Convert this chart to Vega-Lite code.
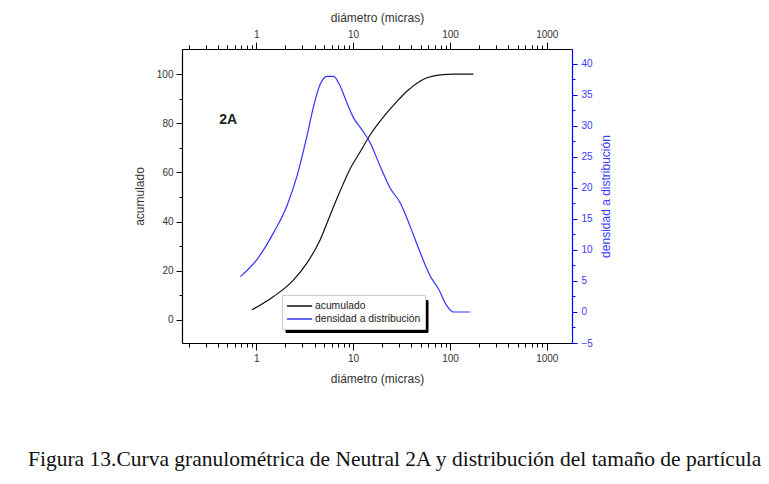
{
  "$schema": "https://vega.github.io/schema/vega-lite/v6.json",
  "width": 390,
  "height": 294,
  "autosize": {"type": "none"},
  "padding": {"left": 182, "top": 49, "right": 197, "bottom": 141},
  "background": "white",
  "config": {
    "view": {"stroke": null},
    "font": "Liberation Sans",
    "axis": {
      "grid": false,
      "domainColor": "black",
      "tickColor": "black",
      "domainWidth": 1.2,
      "tickWidth": 1,
      "labelFont": "Liberation Sans",
      "labelFontSize": 10,
      "labelColor": "#333333",
      "titleFont": "Liberation Sans",
      "titleFontSize": 12,
      "titleFontWeight": "normal",
      "titleColor": "#333333"
    }
  },
  "title": {
    "text": "Figura 13.Curva granulométrica de Neutral 2A y distribución del tamaño de partícula",
    "orient": "bottom",
    "anchor": "start",
    "frame": "group",
    "dx": -154,
    "offset": 65,
    "font": "Liberation Serif",
    "fontSize": 21.5,
    "fontWeight": "normal",
    "color": "#111111"
  },
  "datasets": {
    "acum": [
      {"d": 0.903, "v": 4.1, "serie": "acumulado"},
      {"d": 1.51, "v": 9.5, "serie": "acumulado"},
      {"d": 2.43, "v": 16.3, "serie": "acumulado"},
      {"d": 3.33, "v": 23.1, "serie": "acumulado"},
      {"d": 4.57, "v": 32.6, "serie": "acumulado"},
      {"d": 5.8, "v": 42.7, "serie": "acumulado"},
      {"d": 7.36, "v": 52.5, "serie": "acumulado"},
      {"d": 9.33, "v": 61.5, "serie": "acumulado"},
      {"d": 11.84, "v": 68.4, "serie": "acumulado"},
      {"d": 15.02, "v": 75.3, "serie": "acumulado"},
      {"d": 21.4, "v": 83.4, "serie": "acumulado"},
      {"d": 28.3, "v": 88.8, "serie": "acumulado"},
      {"d": 35.9, "v": 93.0, "serie": "acumulado"},
      {"d": 57.8, "v": 98.5, "serie": "acumulado"},
      {"d": 79.2, "v": 99.7, "serie": "acumulado"},
      {"d": 110, "v": 100, "serie": "acumulado"},
      {"d": 175, "v": 100, "serie": "acumulado"}
    ],
    "dens": [
      {"d": 0.684, "v": 5.7, "serie": "densidad a distribución"},
      {"d": 1.02, "v": 8.5, "serie": "densidad a distribución"},
      {"d": 1.51, "v": 12.8, "serie": "densidad a distribución"},
      {"d": 2.07, "v": 17.1, "serie": "densidad a distribución"},
      {"d": 2.63, "v": 21.9, "serie": "densidad a distribución"},
      {"d": 3.33, "v": 28.3, "serie": "densidad a distribución"},
      {"d": 3.91, "v": 33.2, "serie": "densidad a distribución"},
      {"d": 4.57, "v": 36.7, "serie": "densidad a distribución"},
      {"d": 5.36, "v": 38.0, "serie": "densidad a distribución"},
      {"d": 6.28, "v": 38.0, "serie": "densidad a distribución"},
      {"d": 7.36, "v": 36.4, "serie": "densidad a distribución"},
      {"d": 8.63, "v": 33.7, "serie": "densidad a distribución"},
      {"d": 10.1, "v": 31.3, "serie": "densidad a distribución"},
      {"d": 12.3, "v": 29.4, "serie": "densidad a distribución"},
      {"d": 15.0, "v": 27.3, "serie": "densidad a distribución"},
      {"d": 19.0, "v": 23.5, "serie": "densidad a distribución"},
      {"d": 24.1, "v": 20.0, "serie": "densidad a distribución"},
      {"d": 30.6, "v": 17.6, "serie": "densidad a distribución"},
      {"d": 38.8, "v": 13.8, "serie": "densidad a distribución"},
      {"d": 49.2, "v": 9.6, "serie": "densidad a distribución"},
      {"d": 62.5, "v": 5.8, "serie": "densidad a distribución"},
      {"d": 76.2, "v": 3.7, "serie": "densidad a distribución"},
      {"d": 92.9, "v": 1.0, "serie": "densidad a distribución"},
      {"d": 108.6, "v": 0, "serie": "densidad a distribución"},
      {"d": 161.5, "v": 0, "serie": "densidad a distribución"}
    ],
    "lab": [{"d": 0.514, "v": 81.4, "t": "2A"}]
  },
  "layer": [
    {
      "data": {"name": "acum"},
      "mark": {"type": "line", "interpolate": "monotone", "strokeWidth": 1.2},
      "encoding": {
        "x": {
          "field": "d", "type": "quantitative",
          "scale": {"type": "log", "domain": [0.171, 1820], "nice": false},
          "axis": {
            "orient": "bottom",
            "title": "diámetro (micras)",
            "values": [0.2,0.3,0.4,0.5,0.6,0.7,0.8,0.9,1,2,3,4,5,6,7,8,9,10,20,30,40,50,60,70,80,90,100,200,300,400,500,600,700,800,900,1000],
            "labelExpr": "(datum.value == 1 || datum.value == 10 || datum.value == 100 || datum.value == 1000) ? format(datum.value, 'd') : ''",
            "tickSize": {"condition": {"test": "datum.value == 1 || datum.value == 10 || datum.value == 100 || datum.value == 1000", "value": 7}, "value": 4},
            "labelPadding": 3,
            "titlePadding": 10,
            "labelFlush": false
          }
        },
        "y": {
          "field": "v", "type": "quantitative",
          "scale": {"domain": [-9.4, 110.2], "nice": false, "zero": false},
          "axis": {
            "orient": "left",
            "title": "acumulado",
            "values": [0,10,20,30,40,50,60,70,80,90,100],
            "labelExpr": "datum.value % 20 === 0 ? datum.label : ''",
            "tickSize": {"condition": {"test": "datum.value % 20 === 0", "value": 6}, "value": 3},
            "labelPadding": 3,
            "titlePadding": 10
          }
        },
        "color": {
          "field": "serie", "type": "nominal",
          "scale": {"domain": ["acumulado", "densidad a distribución"], "range": ["#111111", "#3333ff"]},
          "legend": {
            "orient": "none",
            "legendX": 100,
            "legendY": 246,
            "zindex": 2,
            "title": null,
            "symbolType": "M-1,0H3.2",
            "symbolStrokeWidth": 1.5,
            "symbolSize": 144,
            "labelFontSize": 10.3,
            "labelFont": "Liberation Sans",
            "labelColor": "#222222",
            "strokeColor": "#cccccc",
            "fillColor": "white",
            "padding": 4,
            "rowPadding": 0,
            "labelOffset": 15
          }
        }
      }
    },
    {
      "data": {"name": "lab"},
      "mark": {"type": "text", "fontSize": 14, "fontWeight": "bold", "font": "Liberation Sans", "color": "#222222"},
      "encoding": {
        "x": {"field": "d", "type": "quantitative", "axis": null},
        "y": {"field": "v", "type": "quantitative", "scale": {"domain": [-9.4, 110.2], "nice": false, "zero": false}, "axis": null},
        "text": {"field": "t"}
      }
    },
    {
      "data": {"name": "lab"},
      "mark": {"type": "point", "opacity": 0},
      "encoding": {
        "x": {"field": "d", "type": "quantitative", "axis": null},
        "y": {"field": "v", "type": "quantitative", "scale": {"domain": [-9.4, 110.2], "nice": false, "zero": false}, "axis": null},
        "shape": {
          "field": "t", "type": "nominal",
          "legend": {
            "orient": "none",
            "legendX": 103.5,
            "legendY": 251,
            "zindex": 0,
            "title": null,
            "symbolSize": 625,
            "symbolOpacity": 0,
            "labelExpr": "' '",
            "labelFontSize": 10,
            "labelColor": "black",
            "labelOffset": 109,
            "strokeColor": "black",
            "fillColor": "black",
            "padding": 3
          }
        }
      }
    },
    {
      "data": {"name": "dens"},
      "mark": {"type": "line", "interpolate": "monotone", "strokeWidth": 1.2},
      "encoding": {
        "x": {
          "field": "d", "type": "quantitative",
          "axis": {
            "orient": "top",
            "title": "diámetro (micras)",
            "values": [0.2,0.3,0.4,0.5,0.6,0.7,0.8,0.9,1,2,3,4,5,6,7,8,9,10,20,30,40,50,60,70,80,90,100,200,300,400,500,600,700,800,900,1000],
            "labelExpr": "(datum.value == 1 || datum.value == 10 || datum.value == 100 || datum.value == 1000) ? format(datum.value, 'd') : ''",
            "tickSize": {"condition": {"test": "datum.value == 1 || datum.value == 10 || datum.value == 100 || datum.value == 1000", "value": 7}, "value": 4},
            "labelPadding": 3,
            "titlePadding": 5,
            "labelFlush": false
          }
        },
        "y": {
          "field": "v", "type": "quantitative",
          "scale": {"domain": [-5, 42.4], "nice": false, "zero": false},
          "axis": {
            "orient": "right",
            "title": "densidad a distribución",
            "titleAngle": 270,
            "values": [-5,-2.5,0,2.5,5,7.5,10,12.5,15,17.5,20,22.5,25,27.5,30,32.5,35,37.5,40],
            "labelExpr": "datum.value % 5 === 0 ? datum.label : ''",
            "tickSize": {"condition": {"test": "datum.value % 5 === 0", "value": 5}, "value": 3},
            "domainColor": "#0000ff",
            "tickColor": "#0000ff",
            "labelColor": "#3a3aff",
            "titleColor": "#3a3aff",
            "labelPadding": 4,
            "titlePadding": 20
          }
        },
        "color": {"field": "serie", "type": "nominal"}
      }
    }
  ],
  "resolve": {"scale": {"y": "independent"}, "axis": {"x": "independent"}}
}
